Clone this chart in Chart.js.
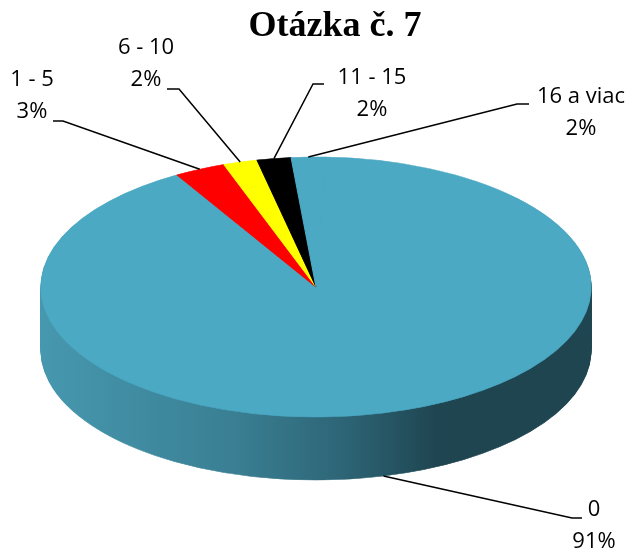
<!DOCTYPE html>
<html>
<head>
<meta charset="utf-8">
<script src="https://cdn.jsdelivr.net/npm/chart.js@4"></script>
<style>
  body { margin: 0; background: #fff; }
  #wrap { width: 632px; height: 554px; }
</style>
</head>
<body>
<div id="wrap"><canvas id="myChart"></canvas></div>
<script>
const categories = ["0", "1 - 5", "6 - 10", "11 - 15", "16 a viac"];
const values = [91, 3, 2, 2, 2];
const colors = ["#4BA9C3", "#FF0000", "#FFFF00", "#000000", "#4BA9C3"];
const titleText = "Otázka č. 7";

// where the tilted pie sits on the page
const ell = { cx: 316, cy: 287, rx: 275, ry: 130, depth: 63 };

// label text centre + leader line bend, same order as categories
const labelLayout = [
  { tx: 594, ty: 510, elbow: [572, 518], end: [582, 518] },
  { tx: 32, ty: 80, elbow: [63, 121], end: [53, 121] },
  { tx: 146, ty: 48, elbow: [179, 89], end: [167, 89] },
  { tx: 372, ty: 78, elbow: [313, 84], end: [324, 84] },
  { tx: 581, ty: 97, elbow: [517, 104], end: [529, 104] },
];

const pie3d = {
  id: "pie3d",
  beforeDatasetsDraw(chart) {
    const c = chart.ctx;
    const arcs = chart.getDatasetMeta(0).data;
    const R = arcs[0].outerRadius, ox = arcs[0].x, oy = arcs[0].y;

    const side = c.createLinearGradient(ox - R, 0, ox + R, 0);
    side.addColorStop(0, "#4698AF");
    side.addColorStop(0.35, "#3A7F93");
    side.addColorStop(0.55, "#2D6576");
    side.addColorStop(0.72, "#1F4551");
    side.addColorStop(1, "#1F4551");

    function drawAt(dy, fill) {
      c.save();
      c.translate(ell.cx, ell.cy + dy);
      c.scale(ell.rx / R, ell.ry / R);
      c.translate(-ox, -oy);
      arcs.forEach((arc) => {
        const saved = arc.options;
        if (fill) arc.options = Object.assign({}, saved, { backgroundColor: fill, borderColor: fill });
        arc.draw(c);
        arc.options = saved;
      });
      c.restore();
    }

    for (let k = ell.depth; k >= 1; k--) drawAt(k, side);
    drawAt(0, null);
    return false;
  },
  afterDraw(chart) {
    const c = chart.ctx;
    const arcs = chart.getDatasetMeta(0).data;
    const total = values.reduce((a, b) => a + b, 0);
    c.save();
    c.strokeStyle = "#000";
    c.lineWidth = 1.5;
    c.fillStyle = "#000";
    c.font = '22px "Open Sans"';
    c.textAlign = "center";
    c.textBaseline = "middle";
    arcs.forEach((arc, i) => {
      const mid = (arc.startAngle + arc.endAngle) / 2;
      const ax = ell.cx + ell.rx * Math.cos(mid);
      let ay = ell.cy + ell.ry * Math.sin(mid);
      if (Math.sin(mid) > 0) ay += ell.depth;
      const L = labelLayout[i];
      c.beginPath();
      c.moveTo(ax, ay);
      c.lineTo(L.elbow[0], L.elbow[1]);
      c.lineTo(L.end[0], L.end[1]);
      c.stroke();
      c.fillText(categories[i], L.tx, L.ty);
      c.fillText(Math.round(values[i] / total * 100) + "%", L.tx, L.ty + 32);
    });
    c.restore();
  },
};

new Chart(document.getElementById("myChart"), {
  type: "pie",
  data: {
    labels: categories,
    datasets: [{ data: values, backgroundColor: colors, borderColor: colors, borderWidth: 1 }],
  },
  options: {
    responsive: true,
    maintainAspectRatio: false,
    animation: false,
    events: [],
    rotation: 2,
    layout: { padding: { left: 38 } },
    plugins: {
      legend: { display: false },
      tooltip: { enabled: false },
      title: {
        display: true,
        text: titleText,
        color: "#000",
        font: { family: "'Liberation Serif', 'Times New Roman', serif", size: 36, weight: "bold" },
        padding: { top: 5, bottom: 10 },
      },
    },
  },
  plugins: [pie3d],
});
</script>
</body>
</html>
